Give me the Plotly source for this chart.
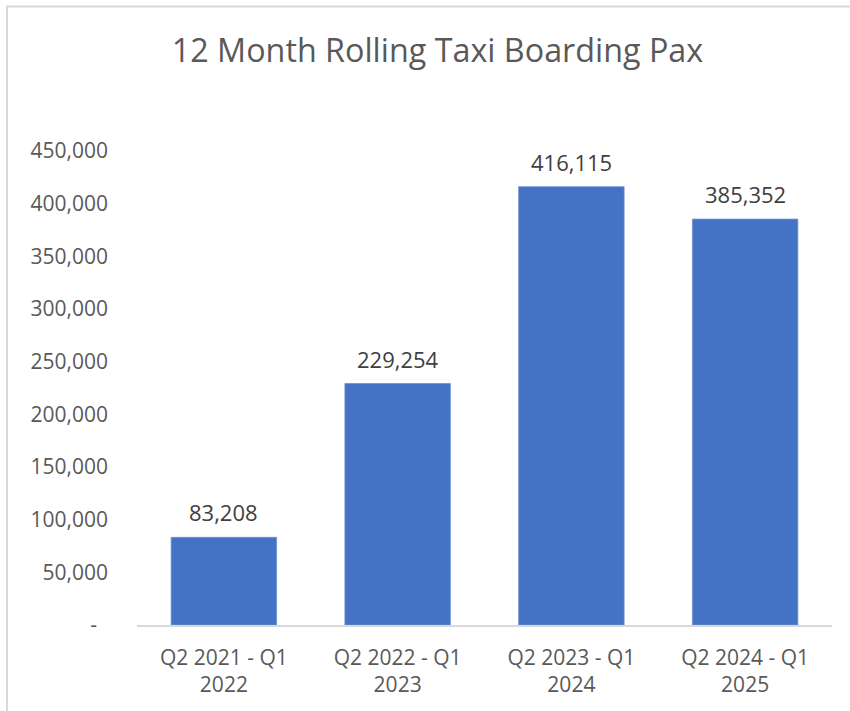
import plotly.graph_objects as go

categories = ["Q2 2021 - Q1<br>2022", "Q2 2022 - Q1<br>2023", "Q2 2023 - Q1<br>2024", "Q2 2024 - Q1<br>2025"]
values = [83208, 229254, 416115, 385352]
tick_vals = [0, 50000, 100000, 150000, 200000, 250000, 300000, 350000, 400000, 450000]
tick_text = ["-\u00a0\u00a0"] + [f"{v:,}" for v in tick_vals[1:]]
title_text = "12 Month Rolling Taxi Boarding Pax"

W, H = 850, 711
L, R, T, B = 137, 18, 151, 86
pw, ph = W - L - R, H - T - B

GREY = "#595959"
FONT = "Open Sans"

fig = go.Figure()
fig.add_trace(go.Bar(
    x=categories, y=values,
    marker=dict(color="#4472C4", line=dict(color="#6f90d0", width=0.8)),
    width=0.607,
    hoverinfo="skip",
))

annotations = []
for c, v in zip(categories, values):
    annotations.append(dict(
        x=c, y=v, xref="x", yref="y", text=f"{v:,}", showarrow=False,
        yshift=25, yanchor="middle", xanchor="center",
        font=dict(family=FONT, size=22, color="#404040"),
    ))

def px_to_paper_x(px):
    return (px - L) / pw

def px_to_paper_y(py):
    return (H - B - py) / ph

fig.add_shape(type="rect", xref="paper", yref="paper",
              x0=px_to_paper_x(7), x1=px_to_paper_x(880),
              y0=px_to_paper_y(740), y1=px_to_paper_y(6.5),
              line=dict(color="#d9d9d9", width=2), fillcolor="rgba(0,0,0,0)", layer="below")

fig.update_layout(
    width=W, height=H,
    margin=dict(l=L, r=R, t=T, b=B, autoexpand=False),
    paper_bgcolor="white", plot_bgcolor="white",
    title=dict(text=title_text, x=437.5 / W, xref="container",
               xanchor="center", y=1 - 51 / H, yanchor="middle",
               font=dict(family=FONT, size=32.3, color=GREY)),
    showlegend=False,
    annotations=annotations,
)
fig.update_xaxes(
    showgrid=False, showline=True, linecolor="#d9d9d9", linewidth=1.5,
    ticks="", tickfont=dict(family=FONT, size=21, color=GREY),
    ticklabelstandoff=13,
)
fig.update_yaxes(
    range=[0, 450000], showgrid=False, showline=False, zeroline=False,
    tickvals=tick_vals, ticktext=tick_text, ticks="",
    tickfont=dict(family=FONT, size=21, color=GREY),
    ticklabelstandoff=28,
)

fig.write_html("out.html", config={"displayModeBar": False},
               post_script="document.body.style.margin='0';")
